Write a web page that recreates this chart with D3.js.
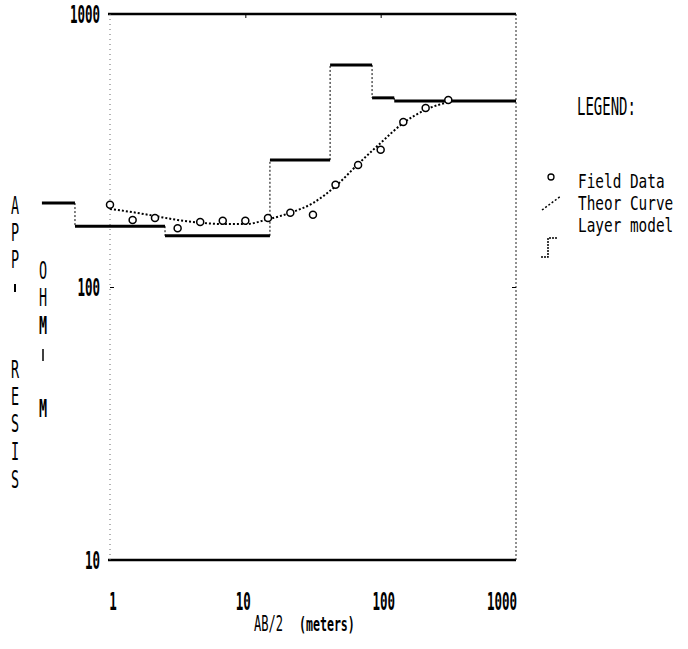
<!DOCTYPE html>
<html>
<head>
<meta charset="utf-8">
<script src="https://cdn.jsdelivr.net/npm/d3@7"></script>
<style>
  html, body { margin: 0; padding: 0; background: #fff; }
  svg { display: block; }
</style>
</head>
<body>
<script>
// Schlumberger sounding: apparent resistivity vs AB/2 spacing
const spacings  = [1, 1.47, 2.15, 3.16, 4.64, 6.81, 10, 14.7, 21.5, 31.6, 46.4, 68.1, 100, 147, 215, 316];
const fieldRho  = [200, 176, 179, 164, 173, 175, 175, 179, 187, 184, 237, 280, 318, 402, 453, 484];
const theorRho  = [193, 188, 182, 176, 172, 170, 170, 177, 187, 203, 234, 282, 337, 399, 446, 476];
// layer model: boundaries (m) and resistivity of each layer
const layerBounds = [0.314, 0.551, 2.55, 15.2, 42.3, 86.4, 126, 1000];
const layerRho    = [203, 167, 154, 292, 650, 493, 480];
const xTicks = [1, 10, 100, 1000];
const yTicks = [10, 100, 1000];
const legendItems = ["Field Data", "Theor Curve", "Layer model"];
const yTitle1 = ["A", "P", "P", "-", "R", "E", "S", "I", "S"];
const yTitle2 = ["O", "H", "M", "-", "M"];

const W = 688, H = 649;
const svg = d3.select("body").append("svg").attr("width", W).attr("height", H);

const x = d3.scaleLog().domain([1, 1000]).range([110, 516]);
const y = d3.scaleLog().domain([10, 1000]).range([560, 14]);

const FONT = "DejaVu Sans Mono";

// condensed printer-style text
function txt(s, px, py, opt = {}) {
  const size = opt.size || 25;
  const sx = opt.sx || 0.56;
  return svg.append("text")
    .attr("transform", `translate(${px},${py}) scale(${sx},1)`)
    .attr("font-family", FONT)
    .attr("font-size", size)
    .attr("font-weight", opt.bold ? "bold" : "normal")
    .attr("fill", "#000")
    .attr("text-anchor", opt.anchor || "start")
    .text(s);
}

// frame
const [x0, x1] = x.range();
const [yb, yt] = y.range();
svg.append("line").attr("x1", x0 - 2).attr("x2", x1).attr("y1", y(1000)).attr("y2", y(1000))
  .attr("stroke", "#000").attr("stroke-width", 2.5);
svg.append("line").attr("x1", x0 - 2).attr("x2", x1).attr("y1", y(10)).attr("y2", y(10))
  .attr("stroke", "#000").attr("stroke-width", 2.5);
svg.append("line").attr("x1", x0).attr("x2", x0).attr("y1", yt).attr("y2", yb)
  .attr("stroke", "#666").attr("stroke-width", 1).attr("stroke-dasharray", "1,4");
svg.append("line").attr("x1", x1).attr("x2", x1).attr("y1", yt).attr("y2", yb)
  .attr("stroke", "#222").attr("stroke-width", 1).attr("stroke-dasharray", "2,2");

// decade ticks on the frame
const axTop = d3.axisBottom(x).tickValues([10, 100]).tickSize(4).tickFormat("");
svg.append("g").attr("transform", `translate(0,${y(1000)})`).call(axTop)
  .call(g => g.select(".domain").remove());
const axL = d3.axisRight(y).tickValues([100]).tickSize(4).tickFormat("");
svg.append("g").attr("transform", `translate(${x0},0)`).call(axL)
  .call(g => g.select(".domain").remove());
const axR = d3.axisLeft(y).tickValues([100]).tickSize(4).tickFormat("");
svg.append("g").attr("transform", `translate(${x1},0)`).call(axR)
  .call(g => g.select(".domain").remove());

// tick labels
yTicks.forEach(v => txt(String(v), 100, y(v) + 9, { anchor: "end", bold: true, sx: 0.5 }));
const xLabelShift = [3, -2, 3, 1];
xTicks.forEach((v, i) => txt(String(v), x(v) + xLabelShift[i], 610,
  { anchor: i === xTicks.length - 1 ? "end" : "middle", bold: true, sx: 0.5 }));
txt("AB/2", 254, 631, { size: 22, sx: 0.55 });
txt("(meters)", 299, 631, { size: 20, sx: 0.58, bold: true });

// vertical axis titles, stacked letters
const t1y = [205, 232, 259, 288, 369, 396, 423, 451, 479];
yTitle1.forEach((c, i) => {
  if (c === "-") {
    svg.append("line").attr("x1", 15).attr("x2", 15)
      .attr("y1", t1y[i] - 4).attr("y2", t1y[i] + 4).attr("stroke", "#000").attr("stroke-width", 2);
  } else {
    txt(c, 15, t1y[i] + 9, { anchor: "middle", size: 24 });
  }
});
const t2y = [270, 297, 325, 355, 408];
yTitle2.forEach((c, i) => {
  if (c === "-") {
    svg.append("line").attr("x1", 43).attr("x2", 43)
      .attr("y1", t2y[i] - 6).attr("y2", t2y[i] + 6).attr("stroke", "#000").attr("stroke-width", 1.5);
  } else {
    txt(c, 43, t2y[i] + 9, { anchor: "middle", size: 24, bold: c === "M" });
  }
});

// layer model: thick horizontals, thin dashed verticals
const layers = layerRho.map((r, i) => ({ r, a: layerBounds[i], b: layerBounds[i + 1] }));
const xl = v => Math.min(x(v), x1);
svg.append("g").selectAll("line").data(layers).join("line")
  .attr("x1", d => xl(d.a)).attr("x2", d => xl(d.b))
  .attr("y1", d => y(d.r)).attr("y2", d => y(d.r))
  .attr("stroke", "#000").attr("stroke-width", 3);
svg.append("g").selectAll("line").data(layers.slice(1)).join("line")
  .attr("x1", d => xl(d.a)).attr("x2", d => xl(d.a))
  .attr("y1", (d, i) => y(layers[i].r)).attr("y2", d => y(d.r))
  .attr("stroke", "#000").attr("stroke-width", 1).attr("stroke-dasharray", "2,2");

// theoretical curve
const line = d3.line().x((d, i) => x(spacings[i])).y(d => y(d)).curve(d3.curveMonotoneX);
svg.append("path").attr("d", line(theorRho))
  .attr("fill", "none").attr("stroke", "#000").attr("stroke-width", 2)
  .attr("stroke-dasharray", "2,2");

// field data
svg.append("g").selectAll("circle").data(fieldRho).join("circle")
  .attr("cx", (d, i) => x(spacings[i])).attr("cy", d => y(d)).attr("r", 3.5)
  .attr("fill", "#fff").attr("stroke", "#000").attr("stroke-width", 1.5);

// legend
txt("LEGEND:", 577, 115);
legendItems.forEach((s, i) => txt(s, 578, 188 + i * 22, { size: 20, sx: 0.72 }));
svg.append("circle").attr("cx", 551).attr("cy", 177).attr("r", 3)
  .attr("fill", "#fff").attr("stroke", "#000").attr("stroke-width", 1.3);
svg.append("line").attr("x1", 542).attr("y1", 210).attr("x2", 561).attr("y2", 196)
  .attr("stroke", "#000").attr("stroke-width", 1.5).attr("stroke-dasharray", "2,2");
svg.append("path").attr("d", "M541,257 H548 V238 H558")
  .attr("fill", "none").attr("stroke", "#000").attr("stroke-width", 1.5)
  .attr("stroke-dasharray", "2,1");
</script>
</body>
</html>
